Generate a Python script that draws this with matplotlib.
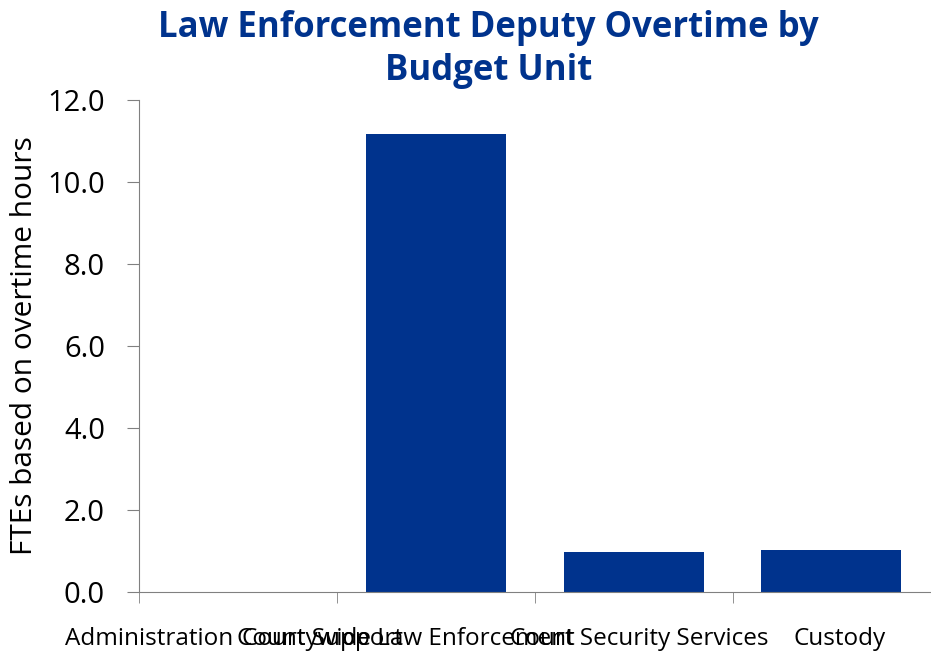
import matplotlib
matplotlib.use('Agg')
import matplotlib.pyplot as plt

# data
labels = ['Administration', 'Court Support', 'Countywide Law Enforcement',
          'Court Security Services', 'Custody']
slots = [0, 1, 2, 3]
values = [0.0, 11.17, 0.98, 1.03]
yticks = [0, 2, 4, 6, 8, 10, 12]

# where each category label sits along the axis (data units)
label_pos = [-0.45, 0.43, 0.85, 2.03, 3.04]

BLUE = '#00338D'
GREY = '#808080'

plt.rcParams['font.family'] = ['Open Sans', 'DejaVu Sans']

fig = plt.figure(figsize=(9.31, 6.55), dpi=100)
ax = fig.add_axes([0.1493, 0.0962, 0.850, 0.7511])

ax.bar(slots, values, width=0.707, color=BLUE)

ax.set_xlim(-0.5, 3.5)
ax.set_ylim(0, 12)
ax.set_yticks(yticks)
ax.set_yticklabels(['{:.1f}'.format(v) for v in yticks])

ax.set_xticks(label_pos)
ax.set_xticklabels(labels)
ax.set_xticks([-0.5, 0.5, 1.5, 2.5], minor=True)
ax.tick_params(axis='x', which='major', length=0, pad=25, labelsize=17.5)
ax.tick_params(axis='x', which='minor', length=8, color=GREY, direction='out')
ax.tick_params(axis='y', length=8.5, color=GREY, labelsize=21, pad=16)

for s in ['top', 'right']:
    ax.spines[s].set_visible(False)
for s in ['left', 'bottom']:
    ax.spines[s].set_color(GREY)

ax.set_ylabel('FTEs based on overtime hours', fontsize=21.5, labelpad=6)

fig.text(0.525, 0.985, 'Law Enforcement Deputy Overtime by\nBudget Unit',
         ha='center', va='top', fontsize=25, fontweight='bold', color=BLUE,
         linespacing=1.25)

fig.savefig('out.png', dpi=100)
